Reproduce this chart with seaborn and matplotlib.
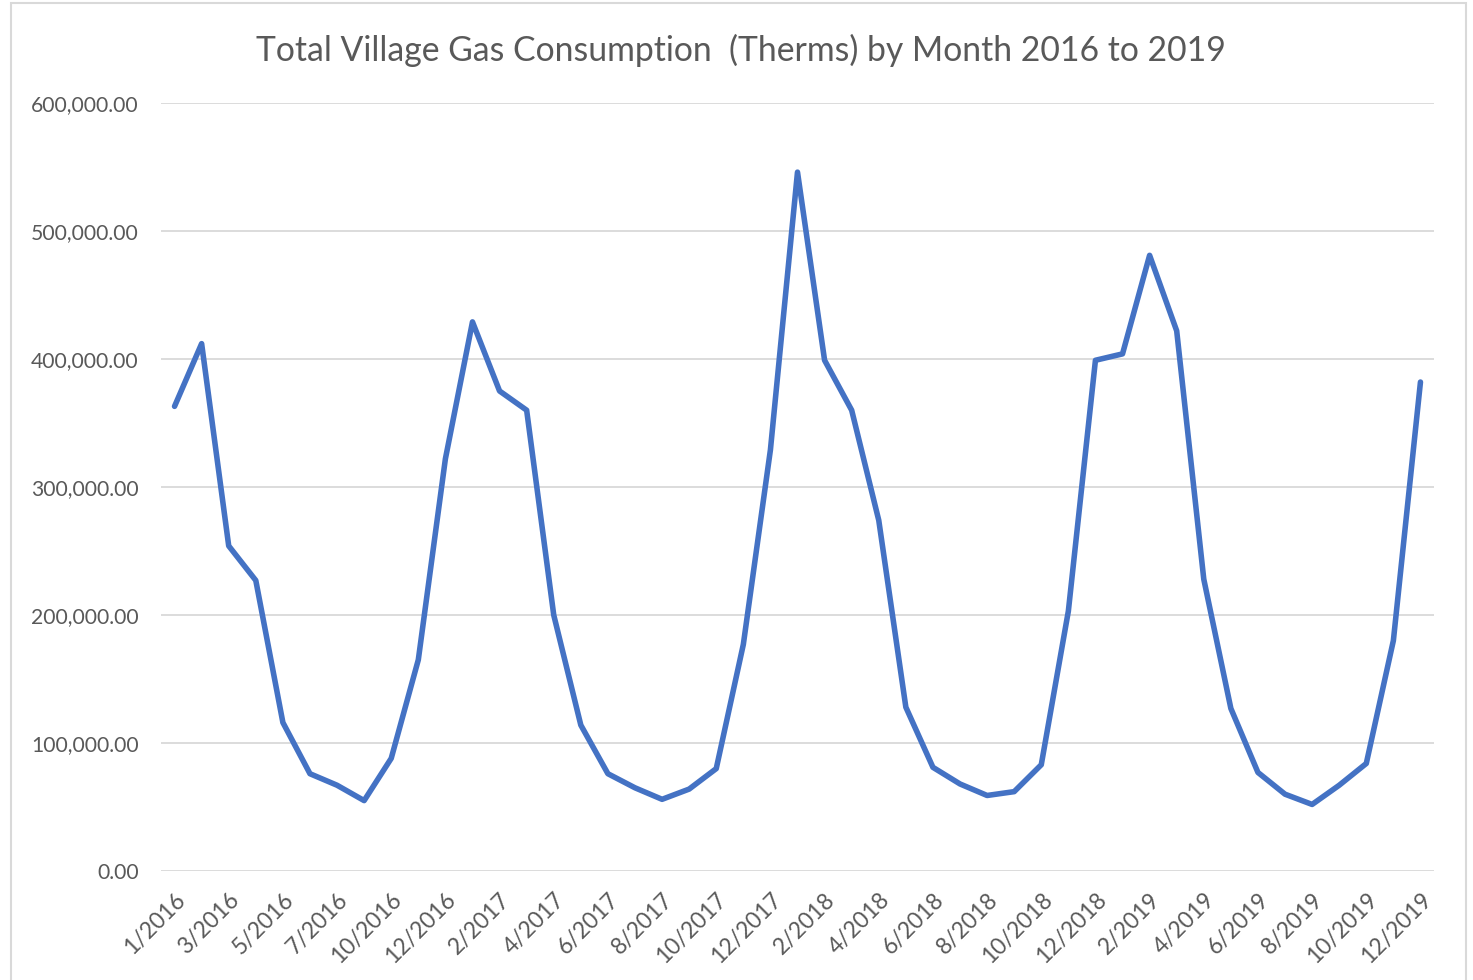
import matplotlib
matplotlib.use("Agg")
import matplotlib.pyplot as plt
from matplotlib.patches import Rectangle
from matplotlib.ticker import FuncFormatter
import seaborn as sns
import pandas as pd

# months on the axis (one month missing in 2016, as in the source sheet)
months = ["1/2016", "2/2016", "3/2016", "4/2016", "5/2016", "6/2016", "7/2016", "8/2016",
          "10/2016", "11/2016", "12/2016",
          "1/2017", "2/2017", "3/2017", "4/2017", "5/2017", "6/2017", "7/2017", "8/2017",
          "9/2017", "10/2017", "11/2017", "12/2017",
          "1/2018", "2/2018", "3/2018", "4/2018", "5/2018", "6/2018", "7/2018", "8/2018",
          "9/2018", "10/2018", "11/2018", "12/2018",
          "1/2019", "2/2019", "3/2019", "4/2019", "5/2019", "6/2019", "7/2019", "8/2019",
          "9/2019", "10/2019", "11/2019", "12/2019"]

# therms per month
therms = [363000, 412000, 254000, 227000, 116000, 76000, 67000, 55000,
          88000, 165000, 322000,
          429000, 375000, 360000, 200000, 114000, 76000, 65000, 56000,
          64000, 80000, 177000, 329000,
          546000, 399000, 360000, 274000, 128000, 81000, 68000, 59000,
          62000, 83000, 203000, 399000,
          404000, 481000, 422000, 228000, 127000, 77000, 60000, 52000,
          67000, 84000, 180000, 382000]

y_ticks = [0, 100000, 200000, 300000, 400000, 500000, 600000]

df = pd.DataFrame({"month": months, "therms": therms})
df["idx"] = range(len(df))

sns.set_theme(style="white")
plt.rcParams["font.family"] = ["Lato", "DejaVu Sans"]

txt = "#595959"
grid_c = "#D9D9D9"

fig = plt.figure(figsize=(14.73, 9.80), dpi=100)
ax = fig.add_axes([161 / 1473, 1 - 871 / 980, (1434 - 161) / 1473, (871 - 103) / 980])

sns.lineplot(data=df, x="idx", y="therms", ax=ax, color="#4472C4",
             linewidth=4.0, sort=False, solid_joinstyle="round",
             solid_capstyle="round")

ax.set_xlim(-0.5, len(months) - 0.5)
ax.set_ylim(0, 600000)
ax.set_yticks(y_ticks)
ax.yaxis.set_major_formatter(FuncFormatter(lambda v, p: f"{v:,.2f}"))
ax.grid(axis="y", color=grid_c, linewidth=1.3)
ax.set_axisbelow(True)

ax.set_xticks(df["idx"][::2])
ax.set_xticklabels(df["month"][::2], rotation=45, ha="right",
                   rotation_mode="anchor", fontsize=16.5, color=txt)
ax.tick_params(axis="x", length=0, pad=13)
ax.tick_params(axis="y", length=0, pad=16, labelsize=15.2, labelcolor=txt)

for s in ax.spines.values():
    s.set_visible(False)
ax.set_xlabel("")
ax.set_ylabel("")

fig.text(0.5027, 1 - 50 / 980, "Total Village Gas Consumption  (Therms) by Month 2016 to 2019",
         ha="center", va="center", fontsize=24.3, color=txt)

# chart-area border like the spreadsheet frame
fig.patches.append(Rectangle((11 / 1473, -0.05), (1466 - 11) / 1473, 1.05 - 3 / 980,
                             transform=fig.transFigure, fill=False,
                             edgecolor=grid_c, linewidth=1.5))

fig.savefig("out.png", dpi=100)
